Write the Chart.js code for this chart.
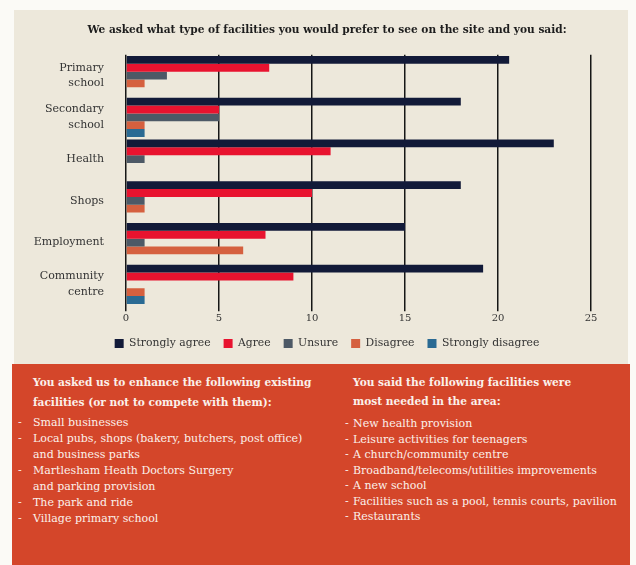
<!DOCTYPE html>
<html>
<head>
<meta charset="utf-8">
<script src="https://cdn.jsdelivr.net/npm/chart.js@4/dist/chart.umd.min.js"></script>
<style>
  html,body{margin:0;padding:0;background:#FBFAF6;}
  body{width:636px;height:565px;position:relative;overflow:hidden;font-family:"DejaVu Serif",serif;}
  #beige{position:absolute;left:14px;top:10px;width:614px;height:356px;background:#EDE8DB;}
  #wrap{position:absolute;left:0;top:0;width:636px;height:365px;}
  #panel{position:absolute;left:12px;top:364px;width:618px;height:201px;background:#D4462A;color:#FBF1EA;}
  .col{position:absolute;top:9px;}
  .h{font-weight:bold;font-size:10.6px;white-space:nowrap;}
  ul{list-style:none;margin:0;padding:0;font-size:11px;white-space:nowrap;}
  li{position:relative;}
  li:before{content:"-";position:absolute;}
  #left{left:21px;}
  #left .h{line-height:19.5px;}
  #left ul{margin-top:3px;}
  #left li{line-height:16px;}
  #left li:before{left:-15px;}
  #right{left:341px;}
  #right .h{line-height:18.5px;}
  #right ul{margin-top:6px;}
  #right li{line-height:15.5px;}
  #right li:before{left:-8px;}
</style>
</head>
<body>
<div id="beige"></div>
<div id="wrap"><canvas id="c" width="636" height="365"></canvas></div>
<div id="panel">
  <div class="col" id="left">
    <div class="h">You asked us to enhance the following existing<br>facilities (or not to compete with them):</div>
    <ul>
      <li>Small businesses</li>
      <li>Local pubs, shops (bakery, butchers, post office)<br>and business parks</li>
      <li>Martlesham Heath Doctors Surgery<br>and parking provision</li>
      <li>The park and ride</li>
      <li>Village primary school</li>
    </ul>
  </div>
  <div class="col" id="right">
    <div class="h">You said the following facilities were<br>most needed in the area:</div>
    <ul>
      <li>New health provision</li>
      <li>Leisure activities for teenagers</li>
      <li>A church/community centre</li>
      <li>Broadband/telecoms/utilities improvements</li>
      <li>A new school</li>
      <li>Facilities such as a pool, tennis courts, pavilion</li>
      <li>Restaurants</li>
    </ul>
  </div>
</div>
<script>
const categories = [["Primary","school"],["Secondary","school"],"Health","Shops","Employment",["Community","centre"]];
const seriesNames = ["Strongly agree","Agree","Unsure","Disagree","Strongly disagree"];
const stronglyAgree = [20.6, 18, 23, 18, 15, 19.2];
const agree = [7.7, 5, 11, 10, 7.5, 9];
const unsure = [2.2, 5, 1, 1, 1, 0];
const disagree = [1, 1, 0, 1, 6.3, 1];
const stronglyDisagree = [0, 1, 0, 0, 0, 1];
const xTicks = [0, 5, 10, 15, 20, 25];
const colors = ["#121A38","#E8132F","#4D5966","#D5603F","#2A6A93"];
const titleText = "We asked what type of facilities you would prefer to see on the site and you said:";

const values = [stronglyAgree, agree, unsure, disagree, stronglyDisagree];
const serif = "'DejaVu Serif', serif";

new Chart(document.getElementById('c'), {
  type: 'bar',
  data: {
    labels: categories,
    datasets: seriesNames.map((n,i)=>({
      label: n, data: values[i], backgroundColor: colors[i], borderWidth: 0,
      categoryPercentage: 0.94, barPercentage: 1.0
    }))
  },
  options: {
    indexAxis: 'y',
    responsive: false,
    animation: false,
    layout: { padding: { left: 18, right: 0, top: 22, bottom: 6 } },
    plugins: {
      title: { display: true, text: titleText, color: '#1d1d1d',
        font: { family: serif, size: 10.6, weight: 'bold' }, padding: { top: 2, bottom: 18 } },
      legend: { position: 'bottom',
        labels: { boxWidth: 9, boxHeight: 9, padding: 13, color: '#333',
          font: { family: serif, size: 10.8 } } },
      tooltip: { enabled: false }
    },
    scales: {
      x: {
        min: 0, max: 25,
        afterBuildTicks: s => { s.ticks = xTicks.map(v=>({value:v})); },
        grid: { color: '#161616', lineWidth: 1.5, tickLength: 6, drawTicks: true },
        border: { display: false },
        ticks: { color: '#333', padding: 1, font: { family: serif, size: 10 } }
      },
      y: {
        grid: { display: false, drawTicks: false },
        border: { display: false },
        afterFit: s => { s.width = 108; },
        ticks: { color: '#333', padding: 22, font: { family: serif, size: 11, lineHeight: 1.4 } }
      },
      y2: {
        position: 'right',
        grid: { display: false, drawTicks: false },
        border: { display: false },
        ticks: { display: false },
        afterFit: s => { s.width = 45; }
      }
    }
  }
});
</script>
</body>
</html>
